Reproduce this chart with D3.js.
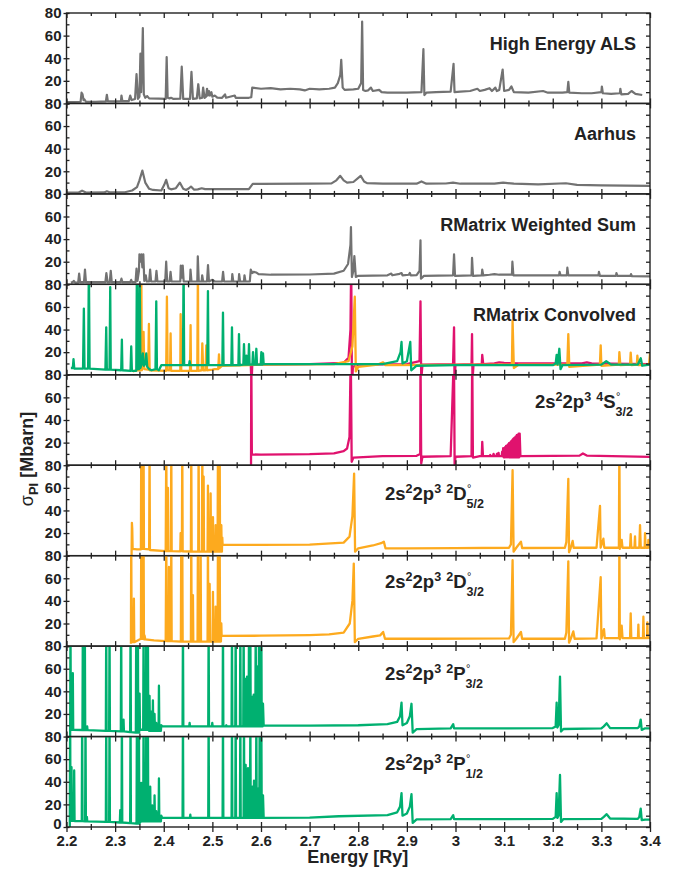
<!DOCTYPE html>
<html>
<head>
<meta charset="utf-8">
<script src="https://cdn.jsdelivr.net/npm/d3@7"></script>
<style>
  body { margin: 0; background: #fff; }
  svg { display: block; font-family: "Liberation Sans", Arial, Helvetica, sans-serif; }
  .ax text { font-weight: bold; fill: #222; }
  .ax path.domain { display: none; }
  .ax line { stroke: #222; stroke-width: 1.3; }
</style>
</head>
<body>
<svg id="chart" width="675" height="873"></svg>
<script>
// x ticks
const xMajor = [2.2, 2.3, 2.4, 2.5, 2.6, 2.7, 2.8, 2.9, 3.0, 3.1, 3.2, 3.3, 3.4];
const xMinor = [2.25, 2.35, 2.45, 2.55, 2.65, 2.75, 2.85, 2.95, 3.05, 3.15, 3.25, 3.35];
const yMajor = [0, 20, 40, 60, 80];
const yMinor = [0, 10, 20, 30, 40, 50, 60, 70, 80];

// High Energy ALS measurement
const als = [[2.200,1.2],[2.215,1.3],[2.229,1.5],[2.231,9.5],[2.233,8],[2.235,3],[2.237,3.5],[2.24,1.5],[2.26,1.5],[2.281,1.8],[2.283,7.7],[2.285,2],[2.30,1.8],[2.312,2],[2.313,7],[2.315,2],[2.328,2],[2.331,7],[2.334,3],[2.341,4],[2.344,26],[2.347,4],[2.350,6],[2.352,44],[2.3535,10],[2.355,30],[2.357,66.6],[2.359,8],[2.362,5],[2.366,6.5],[2.37,4.5],[2.39,4.2],[2.404,4],[2.406,41],[2.408,5],[2.412,4.5],[2.415,5],[2.42,4],[2.434,4.2],[2.437,32.5],[2.440,4],[2.454,4],[2.457,28],[2.460,4],[2.468,4.5],[2.471,17],[2.474,4.5],[2.479,5],[2.481,14],[2.484,5],[2.487,6],[2.489,13],[2.491,7],[2.493,11],[2.495,7],[2.498,10],[2.50,6],[2.505,7],[2.51,5.2],[2.52,5],[2.526,8],[2.528,5],[2.546,7],[2.548,5],[2.575,5],[2.58,5.5],[2.582,14],[2.60,13],[2.62,13.5],[2.64,12.5],[2.66,13],[2.68,12.5],[2.69,11.5],[2.70,13],[2.72,12.5],[2.74,13],[2.752,14],[2.758,18],[2.763,25],[2.765,38.5],[2.768,14],[2.772,12],[2.79,12.5],[2.80,13],[2.806,18],[2.808,72.5],[2.810,12],[2.815,11],[2.82,11.5],[2.826,14],[2.83,11],[2.843,12],[2.848,10],[2.86,9.5],[2.90,9.5],[2.93,10],[2.934,48],[2.936,7.4],[2.94,9.5],[2.96,10],[2.99,10.5],[2.996,35],[2.998,10],[3.01,10.5],[3.03,11],[3.045,13],[3.05,11],[3.06,12],[3.07,13.5],[3.075,11],[3.082,14],[3.085,11],[3.09,12],[3.097,30],[3.10,11],[3.11,12],[3.115,15],[3.12,10],[3.15,9.5],[3.18,11],[3.19,9.5],[3.22,9.5],[3.23,10],[3.232,19],[3.234,9.5],[3.26,9],[3.28,9],[3.30,10],[3.301,15],[3.303,9],[3.32,8.5],[3.338,9],[3.339,13],[3.341,8],[3.355,8.5],[3.362,11],[3.37,8.5],[3.384,7.5]];

// Aarhus measurement
const aarhus = [[2.2,1.2],[2.225,1.2],[2.232,2.8],[2.24,1.2],[2.278,1.3],[2.283,2.3],[2.29,1.3],[2.32,1.4],[2.335,3],[2.345,6],[2.35,12],[2.356,20.6],[2.362,10],[2.37,4.5],[2.378,3.5],[2.395,3],[2.401,8],[2.405,12.4],[2.41,5],[2.415,4],[2.425,5],[2.433,10],[2.44,4.5],[2.446,3.5],[2.452,5],[2.456,6.5],[2.462,3.8],[2.47,4],[2.478,5],[2.485,4.2],[2.52,4.2],[2.575,4.2],[2.583,8.8],[2.60,8.8],[2.70,9],[2.745,9.3],[2.755,12],[2.763,16],[2.77,12],[2.777,10],[2.79,10.5],[2.805,16],[2.812,11],[2.818,9.5],[2.85,9],[2.92,9],[2.93,11],[2.94,9],[2.98,9.2],[2.995,10],[3.01,9],[3.08,9],[3.098,10],[3.12,9],[3.17,8.5],[3.227,9.4],[3.25,8],[3.3,7.6],[3.4,7]];

// R-Matrix weighted sum
const wsum = [[2.209,1.5],[2.213,2],[2.215,3],[2.218,1.5],[2.224,1.5],[2.226,9.4],[2.228,2],[2.236,2],[2.238,13],[2.240,2],[2.28,2],[2.282,10],[2.2845,2],[2.289,2],[2.291,12],[2.293,2],[2.311,2],[2.313,5],[2.315,2],[2.331,2],[2.333,4],[2.335,2],[2.342,2],[2.344,14],[2.346,3],[2.349,12],[2.350,26.5],[2.352,20],[2.354,26.5],[2.356,15],[2.358,26.5],[2.360,3],[2.363,8],[2.365,2.5],[2.370,2.5],[2.372,13],[2.374,2.5],[2.383,2.5],[2.385,12],[2.387,2.5],[2.403,2.5],[2.405,20],[2.407,2.5],[2.412,2.5],[2.414,11],[2.416,2.5],[2.434,2.5],[2.435,16.5],[2.437,6],[2.439,16.5],[2.441,2.5],[2.454,2.5],[2.455,13],[2.457,2.5],[2.469,2.5],[2.470,24.7],[2.472,2.5],[2.478,2.5],[2.479,8],[2.481,2.5],[2.489,2.5],[2.491,17],[2.493,2.5],[2.50,4],[2.505,2.5],[2.52,2.5],[2.522,11],[2.524,2.5],[2.54,2.5],[2.541,9],[2.543,2.5],[2.554,2.5],[2.555,9],[2.557,2.5],[2.565,2.5],[2.566,8],[2.568,2.5],[2.577,2.5],[2.579,13],[2.582,10],[2.585,11],[2.59,10.5],[2.595,9],[2.62,8.5],[2.70,8.7],[2.75,9.5],[2.77,12],[2.779,18],[2.784,35],[2.785,50.6],[2.787,6.5],[2.790,12],[2.792,25],[2.795,6.5],[2.80,7.5],[2.86,8],[2.868,9.5],[2.87,8],[2.885,9.3],[2.889,10],[2.891,8],[2.904,8.5],[2.906,10],[2.908,8],[2.92,8.2],[2.926,12],[2.928,39],[2.929,5],[2.935,7.5],[2.995,8],[2.997,26.5],[2.999,7.5],[3.033,8],[3.034,23.5],[3.036,7.5],[3.054,8],[3.055,13],[3.057,8],[3.07,8.5],[3.08,9],[3.09,8.5],[3.116,8.5],[3.117,20],[3.119,8],[3.18,8],[3.213,8],[3.214,11],[3.216,8],[3.229,8],[3.230,14.7],[3.232,8],[3.294,8],[3.295,11],[3.297,7.5],[3.33,7.5],[3.331,10],[3.333,7.5],[3.36,7.5],[3.361,9],[3.363,7.2],[3.4,7]];

// R-Matrix convolved, one per initial state group
const convS = [[2.579,9],[2.5805,-10],[2.582,9],[2.70,9.5],[2.77,10.5],[2.78,15],[2.784,40],[2.7855,100],[2.787,-10],[2.789,7],[2.80,9],[2.90,9.5],[2.926,12],[2.928,65],[2.9295,-5],[2.932,9],[2.995,9.5],[2.997,42],[2.998,-5],[3.000,9],[3.033,9.5],[3.034,36],[3.035,-5],[3.037,9],[3.054,9.5],[3.055,17.6],[3.057,9.5],[3.08,10],[3.09,11],[3.10,10.5],[3.13,10],[3.26,10],[3.27,11],[3.28,10],[3.4,9.5]];
const convD = [[2.3365,3],[2.345,4],[2.353,4],[2.3537,100],[2.355,4],[2.3585,38],[2.360,5],[2.368,4.5],[2.3695,45],[2.371,4],[2.405,3.5],[2.4065,69],[2.408,4],[2.413,4],[2.4141,36.6],[2.415,3.5],[2.434,3.5],[2.4347,53.6],[2.436,3.5],[2.454,3.5],[2.4552,44],[2.456,3.5],[2.469,3.5],[2.4703,100],[2.471,3.5],[2.478,4],[2.4793,27.8],[2.481,4],[2.486,4],[2.4875,26],[2.489,4],[2.50,4.5],[2.505,5],[2.512,5],[2.5136,18],[2.515,6],[2.52,8],[2.60,9],[2.75,9.5],[2.78,12],[2.788,25],[2.7929,69],[2.795,3],[2.80,7],[2.84,9],[2.851,11],[2.856,8.5],[3.10,9],[3.116,9],[3.1174,48],[3.12,6],[3.13,9],[3.230,9],[3.232,36],[3.234,7],[3.297,9],[3.2986,26],[3.300,8],[3.336,9],[3.337,20],[3.339,8.5],[3.359,9],[3.3603,19.6],[3.362,8.5],[3.373,9],[3.374,17],[3.376,8.5],[3.398,9],[3.4,19]];
const convP = [[2.209,6],[2.213,6],[2.2144,13.8],[2.216,5.5],[2.234,5.5],[2.2357,58.6],[2.237,5.5],[2.2445,5.5],[2.246,100],[2.2475,5.5],[2.280,4.5],[2.2817,42],[2.283,4.5],[2.2885,4.5],[2.2899,77.6],[2.291,4.5],[2.3125,4],[2.3139,31],[2.315,4],[2.3317,3.5],[2.3331,25],[2.3345,3.5],[2.3435,3.5],[2.3448,100],[2.346,5],[2.349,5],[2.3503,100],[2.352,6],[2.355,10],[2.357,19],[2.359,8],[2.3625,10],[2.364,19],[2.366,7],[2.37,5],[2.375,4],[2.383,5],[2.3846,65],[2.386,5],[2.39,4],[2.395,8.5],[2.4395,8.5],[2.4408,100],[2.442,8.5],[2.452,8.5],[2.4532,12],[2.4545,8.5],[2.4895,8.5],[2.4909,74],[2.492,8.5],[2.5205,8.5],[2.5218,55],[2.523,8.5],[2.539,8.5],[2.5403,42],[2.5415,8.5],[2.5535,8.5],[2.5547,36],[2.556,8.5],[2.5637,9],[2.565,27],[2.5663,9],[2.569,9],[2.570,17],[2.5715,9],[2.574,9],[2.5753,27],[2.5765,9],[2.5823,9],[2.5836,20],[2.585,9],[2.589,9],[2.5904,23],[2.5918,9],[2.5994,9],[2.6007,20],[2.602,9],[2.603,9],[2.6041,19],[2.6055,9.5],[2.70,9.5],[2.85,9.5],[2.88,12],[2.887,20],[2.889,29],[2.891,10],[2.90,12],[2.907,29],[2.909,4],[2.92,8],[3.0,8.5],[3.2,8.5],[3.206,10],[3.208,17.6],[3.21,9],[3.2135,23],[3.216,5],[3.22,8.5],[3.30,9],[3.31,12],[3.32,9],[3.375,9],[3.381,14.6],[3.384,8],[3.4,9]];

// 2s2 2p3 4S
const s32 = [[2.5795,0],[2.5800,100],[2.5812,9.5],[2.60,9.4],[2.70,9.8],[2.75,10.5],[2.77,12.5],[2.777,14.8],[2.782,25],[2.7846,100],[2.7865,3],[2.79,6.8],[2.85,8],[2.92,8.3],[2.9275,10],[2.928,100],[2.9295,1.5],[2.932,7.5],[2.99,8],[2.9968,100],[2.9982,0],[3.0,7.5],[3.033,8],[3.0344,100],[3.0358,6.8],[3.05,8],[3.054,8],[3.055,20.7],[3.0565,8],[3.070,8],[3.0714,9],[3.0728,8],[3.077,8],[3.0783,10],[3.0796,8],[3.084,8],[3.0851,10],[3.0862,8],[3.0875,8],[3.0885,11],[3.0895,8],[3.095,8],[3.096,12],[3.097,8],[3.098,15],[3.099,7],[3.100,14],[3.101,7],[3.102,16],[3.103,7],[3.104,17],[3.105,7],[3.106,17.5],[3.107,7],[3.108,18.5],[3.109,7],[3.110,19.5],[3.111,7],[3.112,20],[3.113,7],[3.114,21],[3.115,7],[3.116,22],[3.117,7],[3.118,23],[3.119,7],[3.120,24],[3.121,7],[3.122,24.5],[3.123,7],[3.124,25.5],[3.125,7],[3.126,26.5],[3.127,7],[3.128,27],[3.129,7],[3.130,28],[3.131,7],[3.132,28],[3.1335,8],[3.2,8.2],[3.255,8.5],[3.262,10.4],[3.27,8.5],[3.4,7.4]];

// 2s2 2p3 2D 5/2
const d52 = [[2.3338,0],[2.3345,29],[2.3352,24],[2.336,6],[2.345,5.5],[2.3530,5.5],[2.3537,100],[2.3545,6],[2.3578,6],[2.3585,100],[2.3593,6],[2.370,5.5],[2.3708,100],[2.3716,5],[2.404,4],[2.4052,100],[2.4062,4],[2.408,4],[2.4086,60],[2.4094,4],[2.4147,4],[2.4155,100],[2.4163,4],[2.434,3.8],[2.4347,20],[2.4355,4],[2.4373,4],[2.4381,100],[2.4389,3.8],[2.4558,3.7],[2.4566,100],[2.4574,3.7],[2.4709,3.6],[2.4717,100],[2.4725,3.6],[2.4785,3.6],[2.4793,100],[2.4801,3.6],[2.4812,3.6],[2.482,70],[2.4828,3.6],[2.4901,3.6],[2.4909,62],[2.4917,3.6],[2.4956,3.6],[2.4964,55],[2.4972,3.6],[2.5004,3.6],[2.5012,34],[2.502,3.6],[2.5059,3.6],[2.5067,27],[2.5075,3.6],[2.5107,3.6],[2.5115,100],[2.5123,3.6],[2.5142,3.6],[2.515,100],[2.5158,3.6],[2.5176,3.6],[2.5184,27],[2.5192,3.6],[2.5196,3.6],[2.5204,16],[2.521,9.7],[2.60,9.6],[2.70,9.8],[2.77,11.5],[2.782,16.8],[2.788,35],[2.7915,72.6],[2.7935,3.5],[2.80,6.5],[2.83,9],[2.847,11],[2.8526,12.4],[2.856,6.5],[2.90,6.5],[3.0,6.6],[3.11,7],[3.114,10],[3.1174,75.6],[3.1195,3.5],[3.125,7],[3.1346,12.4],[3.137,6.8],[3.225,7],[3.228,12],[3.232,68],[3.2335,3],[3.237,7],[3.2409,13],[3.243,7],[3.29,7],[3.2972,44],[3.2985,7],[3.3041,15],[3.306,7],[3.336,7],[3.337,100],[3.338,6],[3.3418,14],[3.3435,7],[3.359,7],[3.3603,19],[3.3615,7],[3.368,7],[3.3692,17],[3.370,7],[3.378,7],[3.3795,27],[3.381,7],[3.389,7],[3.3898,20],[3.391,7],[3.396,7],[3.3967,14],[3.398,7],[3.4,8]];

// 2s2 2p3 2D 3/2
const d32 = [[2.3325,2],[2.3331,100],[2.334,3.5],[2.338,3.5],[2.3386,42],[2.3394,3.5],[2.353,6.5],[2.3537,100],[2.3545,6.5],[2.3578,6.5],[2.3585,100],[2.3593,6],[2.3605,9.5],[2.362,6],[2.38,5],[2.404,4.5],[2.4052,100],[2.406,4.5],[2.41,4.5],[2.4107,70],[2.4115,4.5],[2.4147,4.5],[2.4155,100],[2.4163,4.5],[2.4352,4],[2.436,100],[2.4368,4],[2.4373,4],[2.4381,100],[2.4389,4],[2.4558,4],[2.4566,100],[2.4574,4],[2.4592,4],[2.46,45],[2.4608,4],[2.4695,4],[2.4703,100],[2.4711,4],[2.475,4],[2.4758,100],[2.4766,4],[2.4901,4],[2.4909,100],[2.4917,4],[2.4936,4],[2.4944,55],[2.4952,4],[2.5004,4],[2.5012,48],[2.502,4],[2.5059,4],[2.5067,35],[2.5075,4],[2.5107,4],[2.5115,100],[2.5123,4],[2.5142,4],[2.515,100],[2.5158,4],[2.5176,4],[2.5184,20],[2.519,9],[2.60,9.2],[2.70,9.8],[2.74,10.4],[2.77,12],[2.7825,20],[2.788,40],[2.7908,73],[2.793,3.5],[2.80,6.5],[2.83,8.5],[2.845,9.5],[2.8512,12.5],[2.855,6.5],[2.95,6.5],[3.11,6.8],[3.114,10],[3.1174,76],[3.1195,3.5],[3.125,6.5],[3.1346,12.5],[3.137,6.5],[3.225,6.5],[3.228,12],[3.232,75],[3.2335,3],[3.237,6.5],[3.2423,13],[3.245,6.5],[3.29,6.8],[3.2986,61],[3.3,6.5],[3.3054,15],[3.307,7],[3.3363,7],[3.337,100],[3.338,6],[3.3418,18],[3.3435,7],[3.359,7],[3.3603,29],[3.3615,7],[3.3752,7],[3.3761,19],[3.377,7],[3.3855,7],[3.3864,26],[3.3875,7],[3.3938,7],[3.3946,21],[3.3955,7],[3.4,7.4]];

// 2s2 2p3 2P 3/2
const p32 = [[2.2075,0],[2.2082,100],[2.209,6],[2.2122,6],[2.213,56],[2.2138,6],[2.2328,5.8],[2.2336,100],[2.2344,5.8],[2.2369,5.8],[2.2377,100],[2.2385,5.8],[2.2417,5.8],[2.2425,9],[2.2433,5.7],[2.2809,5],[2.2817,100],[2.2825,5],[2.2877,5],[2.2885,100],[2.2893,5],[2.3117,4.5],[2.3125,100],[2.3133,4.5],[2.3165,4.5],[2.3173,15],[2.3181,4.5],[2.3309,4],[2.3317,100],[2.3325,4],[2.3426,3.5],[2.3434,100],[2.3442,3.5],[2.346,3.5],[2.3468,100],[2.3476,3.5],[2.3495,3.5],[2.3503,38],[2.3511,6],[2.3577,6],[2.3585,100],[2.3593,6],[2.3632,6],[2.364,100],[2.3648,6],[2.3666,6],[2.3674,100],[2.3682,6],[2.37,5],[2.3708,36],[2.3716,5],[2.3735,5],[2.3743,22],[2.3751,5],[2.3769,5],[2.3777,32],[2.3785,5],[2.3803,5],[2.3811,20],[2.3819,5],[2.3838,5],[2.3846,12],[2.3854,5],[2.3893,5],[2.3901,45],[2.3909,5],[2.3941,5],[2.3949,10],[2.397,9],[2.4387,9],[2.4395,100],[2.4403,9],[2.4524,9],[2.4532,12],[2.454,9],[2.4915,9],[2.4923,100],[2.4931,9],[2.499,9],[2.4998,12],[2.5006,9],[2.521,9],[2.5218,100],[2.5226,9],[2.5279,9],[2.5287,10],[2.5295,9],[2.5395,9],[2.5403,100],[2.5411,9],[2.5471,9],[2.5479,100],[2.5487,9],[2.5567,9],[2.5575,100],[2.5583,9],[2.5635,9],[2.5643,100],[2.5651,9],[2.5677,9],[2.5685,51],[2.5693,9],[2.5704,9],[2.5712,53],[2.572,9],[2.5745,9],[2.5753,100],[2.5761,9],[2.5773,9],[2.5781,100],[2.5789,9],[2.5814,9],[2.5822,35],[2.583,9],[2.5842,9],[2.585,37],[2.5858,9],[2.5883,9],[2.5891,100],[2.5899,9],[2.591,9],[2.5918,62],[2.5926,9],[2.5951,9],[2.5959,100],[2.5967,9],[2.5999,9],[2.6007,100],[2.6015,9],[2.6033,9],[2.6041,29],[2.6055,9.7],[2.70,9.7],[2.80,10],[2.86,11],[2.88,13],[2.886,18],[2.889,30],[2.891,10],[2.90,12],[2.9061,18],[2.9095,29],[2.912,3.5],[2.92,6.5],[2.99,7.3],[2.9953,11],[2.997,7.3],[3.1,7.3],[3.2,7.5],[3.206,9],[3.208,30],[3.2095,8],[3.212,10],[3.2149,53],[3.217,4.4],[3.222,6.7],[3.30,7.2],[3.305,9],[3.3109,11.7],[3.318,7.5],[3.375,7.5],[3.378,9],[3.3809,15],[3.383,5.9],[3.39,7.3],[3.4,7.3]];

// 2s2 2p3 2P 1/2
const p12 = [[2.2068,0],[2.2075,100],[2.2083,5.5],[2.2095,5.5],[2.2103,53],[2.2111,5.5],[2.215,5.5],[2.2158,50],[2.2166,5.3],[2.2314,5.2],[2.2322,100],[2.233,5.2],[2.2383,5],[2.2391,100],[2.2399,5],[2.2411,5],[2.2419,9],[2.2427,5],[2.2809,4.5],[2.2817,100],[2.2825,4.5],[2.2877,4.5],[2.2885,100],[2.2893,4.5],[2.3097,4],[2.3105,15],[2.3113,4],[2.3131,4],[2.3139,100],[2.3147,4],[2.3309,3.5],[2.3317,100],[2.3325,3.5],[2.344,3],[2.3448,100],[2.3456,3],[2.3481,3],[2.3489,100],[2.3497,3],[2.3529,5],[2.3537,39],[2.3545,5],[2.3577,5],[2.3585,100],[2.3593,5],[2.3632,5],[2.364,100],[2.3648,5],[2.3666,5],[2.3674,100],[2.3682,5],[2.3714,5],[2.3722,35.6],[2.373,5],[2.3755,5],[2.3763,19],[2.3771,5],[2.3803,5],[2.3811,28],[2.3819,5],[2.3838,5],[2.3846,14],[2.3854,5],[2.3893,5],[2.3901,43],[2.3909,5],[2.3941,5],[2.3949,10],[2.397,8],[2.4387,8],[2.4395,100],[2.4403,8],[2.4538,8],[2.4546,11],[2.4554,8],[2.4915,8],[2.4923,100],[2.4931,8],[2.521,8],[2.5218,100],[2.5226,8],[2.5395,8],[2.5403,100],[2.5411,8],[2.5471,8],[2.5479,100],[2.5487,8],[2.5567,8],[2.5575,100],[2.5583,8],[2.5642,8],[2.565,100],[2.5658,8],[2.5677,8],[2.5685,55],[2.5693,8],[2.5725,8],[2.5733,52],[2.5741,8],[2.5773,8],[2.5781,100],[2.5789,8],[2.5814,8],[2.5822,35.6],[2.583,8],[2.5848,8],[2.5856,41],[2.5864,8],[2.5896,8],[2.5904,100],[2.5912,8],[2.5931,8],[2.5939,34],[2.5947,8],[2.5965,8],[2.5973,100],[2.5981,8],[2.5999,8],[2.6007,100],[2.6015,8],[2.6033,8],[2.6041,28],[2.6055,8],[2.70,8.3],[2.76,9.5],[2.86,10.5],[2.88,13],[2.886,18],[2.889,30],[2.891,10],[2.90,12],[2.9061,18],[2.9095,29],[2.912,3.6],[2.92,6.8],[2.99,7],[2.9953,10.4],[2.997,7],[3.1,7],[3.2,7.2],[3.206,9],[3.208,30],[3.2095,8],[3.212,10],[3.2149,46],[3.217,4.5],[3.222,7],[3.30,7.2],[3.305,9],[3.3109,11.3],[3.318,7.5],[3.375,7.2],[3.378,9],[3.3809,16.3],[3.383,6],[3.39,6.5],[3.4,6.5]];

const GRAY = '#727272', MAG = '#e0126e', ORA = '#fdaa1e', GRN = '#00b070';

// plain titles (right aligned) and term labels
const panels = [
  { title: 'High Energy ALS', series: [[als, GRAY]] },
  { title: 'Aarhus', series: [[aarhus, GRAY]] },
  { title: 'RMatrix Weighted Sum', series: [[wsum, GRAY]] },
  { title: 'RMatrix Convolved', series: [[convS, MAG], [convD, ORA], [convP, GRN]] },
  { term: ['4', 'S', '3/2'], tx: 535, ty: 33, series: [[s32, MAG]] },
  { term: ['2', 'D', '5/2'], tx: 385, ty: 35, series: [[d52, ORA]] },
  { term: ['2', 'D', '3/2'], tx: 385, ty: 32, series: [[d32, ORA]] },
  { term: ['2', 'P', '3/2'], tx: 385, ty: 34, series: [[p32, GRN]] },
  { term: ['2', 'P', '1/2'], tx: 385, ty: 33, series: [[p12, GRN]] }
];

const svg = d3.select('#chart');
const padL = 66.5, padR = 650, padT = 13, padB = 827;
const ph = (padB - padT) / panels.length;

const x = d3.scaleLinear().domain([2.2, 3.4]).range([padL, padR]);
const fmt = d => String(+d.toFixed(1));

panels.forEach((p, i) => {
  const y0 = padT + i * ph;
  const y = d3.scaleLinear().domain([0, 80]).range([y0 + ph, y0]);
  const g = svg.append('g');
  const last = i === panels.length - 1;

  g.append('clipPath').attr('id', 'clip' + i)
    .append('rect').attr('x', padL).attr('y', y0).attr('width', padR - padL).attr('height', ph);

  const line = d3.line().x(d => x(d[0])).y(d => y(d[1]));
  const plot = g.append('g').attr('clip-path', 'url(#clip' + i + ')');
  p.series.forEach(([data, col]) => {
    plot.append('path').datum(data)
      .attr('d', line)
      .attr('fill', 'none')
      .attr('stroke', col)
      .attr('stroke-width', col === GRAY ? 2.2 : 2.3)
      .attr('stroke-linejoin', 'round');
  });

  // x ticks (inward at top and bottom)
  const addX = (axisFn, yPos, vals, size) => {
    g.append('g').attr('class', 'ax').attr('transform', `translate(0,${yPos})`)
      .call(axisFn(x).tickValues(vals).tickSize(size).tickFormat(''));
  };
  addX(d3.axisBottom, y0, xMajor, 5);
  addX(d3.axisBottom, y0, xMinor, 3);
  addX(d3.axisTop, y0 + ph, xMajor, 5);
  addX(d3.axisTop, y0 + ph, xMinor, 3);

  // y ticks; the 0 label only on the bottom panel (the 80 of the panel below sits there otherwise)
  const yl = g.append('g').attr('class', 'ax').attr('transform', `translate(${padL},0)`)
    .call(d3.axisLeft(y).tickValues(last ? yMajor : yMajor.slice(1)).tickSize(3).tickPadding(2).tickFormat(d3.format('d')));
  yl.selectAll('text').style('font-size', '15px');
  if (last) yl.selectAll('text').filter(d => d === 0).attr('dy', '0.12em');
  g.append('g').attr('class', 'ax').attr('transform', `translate(${padL},0)`)
    .call(d3.axisRight(y).tickValues(yMinor).tickSize(3).tickFormat(''));
  g.append('g').attr('class', 'ax').attr('transform', `translate(${padR},0)`)
    .call(d3.axisLeft(y).tickValues(yMinor).tickSize(4).tickFormat(''));

  g.append('rect').attr('x', padL).attr('y', y0).attr('width', padR - padL).attr('height', ph)
    .attr('fill', 'none').attr('stroke', '#222').attr('stroke-width', 1.4);

  if (p.title) {
    g.append('text').attr('x', 636).attr('y', y0 + 37)
      .attr('text-anchor', 'end').attr('font-size', 18).attr('font-weight', 'bold')
      .attr('fill', '#222').text(p.title);
  } else {
    const [mult, L, J] = p.term;
    const t = g.append('text').attr('x', p.tx).attr('y', y0 + p.ty)
      .attr('font-size', 18.5).attr('font-weight', 'bold').attr('fill', '#222');
    t.append('tspan').text('2s');
    t.append('tspan').attr('font-size', 12.5).attr('dy', -7).text('2');
    t.append('tspan').attr('dy', 7).text('2p');
    t.append('tspan').attr('font-size', 12.5).attr('dy', -7).text('3');
    t.append('tspan').attr('dy', 7).text(' ');
    t.append('tspan').attr('font-size', 12.5).attr('dy', -7).text(mult);
    t.append('tspan').attr('dy', 7).text(L);
    t.append('tspan').attr('font-size', 12.5).attr('dy', 8).text(J);
    const n = ('2s22p3 ' + mult + L).length;
    const sx = t.node().getStartPositionOfChar(n).x;
    g.append('text').attr('x', sx + 0.5).attr('y', y0 + p.ty - 8)
      .attr('font-size', 11).attr('fill', '#222').text('\u00b0');
  }

  if (last) {
    g.append('g').attr('class', 'ax').attr('transform', `translate(0,${y0 + ph})`)
      .call(d3.axisBottom(x).tickValues(xMajor).tickSize(5).tickPadding(3).tickFormat(fmt))
      .selectAll('text').style('font-size', '15px');
    g.append('g').attr('class', 'ax').attr('transform', `translate(0,${y0 + ph})`)
      .call(d3.axisBottom(x).tickValues(xMinor).tickSize(3).tickFormat(''));
  }
});

// axis titles
svg.append('text').attr('x', (padL + padR) / 2 - 0.5).attr('y', 863)
  .attr('text-anchor', 'middle').attr('font-size', 18).attr('font-weight', 'bold')
  .attr('fill', '#222').text('Energy [Ry]');

const yt = svg.append('text').attr('transform', 'translate(33,459) rotate(-90)')
  .attr('text-anchor', 'middle').attr('font-size', 18).attr('font-weight', 'bold').attr('fill', '#222');
yt.append('tspan').attr('font-weight', 'normal').text('\u03c3');
yt.append('tspan').attr('font-size', 13).attr('dy', 5).text('PI');
yt.append('tspan').attr('dy', -5).text(' [Mbarn]');
</script>
</body>
</html>
